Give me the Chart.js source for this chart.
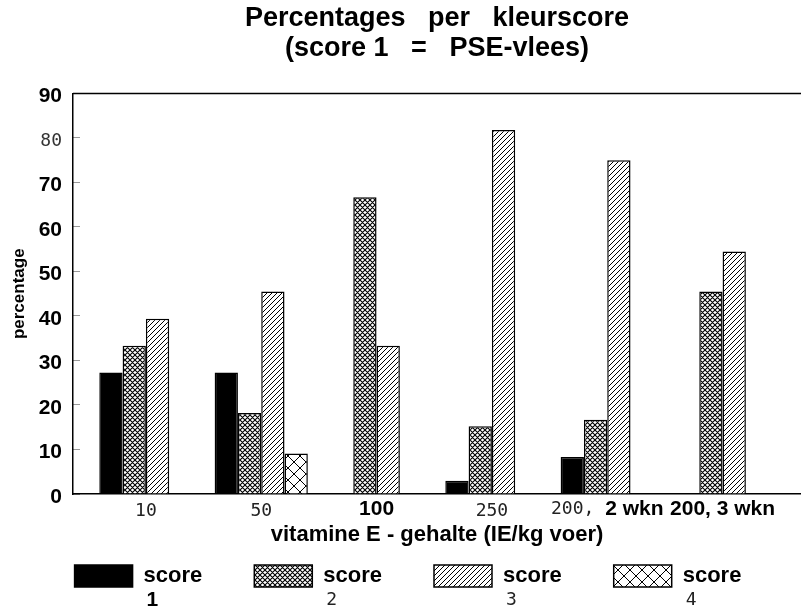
<!DOCTYPE html>
<html>
<head>
<meta charset="utf-8">
<script src="https://cdn.jsdelivr.net/npm/chart.js@4.4.0/dist/chart.umd.min.js"></script>
<style>
  html, body { margin: 0; padding: 0; background: #fff; }
</style>
</head>
<body>
<canvas id="kleurChart" width="801" height="612"></canvas>
<script>
const categories = ['10', '50', '100', '250', '200, 2 wkn', '200, 3 wkn'];
const score1 = [27.3, 27.3, 0, 3.0, 8.3, 0];
const score2 = [33.3, 18.2, 66.7, 15.2, 16.7, 45.5];
const score3 = [39.4, 45.5, 33.3, 81.8, 75.0, 54.5];
const score4 = [0, 9.1, 0, 0, 0, 0];
const seriesNames = ['score 1', 'score 2', 'score 3', 'score 4'];
const yTicks = [0, 10, 20, 30, 40, 50, 60, 70, 80, 90];

const BOLD = 'Liberation Sans, Arial, sans-serif';
const THIN = 'DejaVu Sans Mono, monospace';
// labels that the original printed in the thin typewriter face
const thinX = [0, 1, 3];
const thinY = [80];
const thinDigits = [1, 2, 3];

const ctx = document.getElementById('kleurChart').getContext('2d');

function makePattern(size, lw, draw) {
    const c = document.createElement('canvas');
    c.width = size;
    c.height = size;
    const g = c.getContext('2d');
    g.fillStyle = '#fff';
    g.fillRect(0, 0, size, size);
    g.strokeStyle = '#000';
    g.lineWidth = lw;
    g.beginPath();
    draw(g, size);
    g.stroke();
    return ctx.createPattern(c, 'repeat');
}
function slash(g, s) {
    g.moveTo(-1, s + 1); g.lineTo(s + 1, -1);
    g.moveTo(-1, 1); g.lineTo(1, -1);
    g.moveTo(s - 1, s + 1); g.lineTo(s + 1, s - 1);
}
function backslash(g, s) {
    g.moveTo(-1, -1); g.lineTo(s + 1, s + 1);
    g.moveTo(s - 1, -1); g.lineTo(s + 1, 1);
    g.moveTo(-1, s - 1); g.lineTo(1, s + 1);
}

const fills = [
    '#000',
    makePattern(5, 1.1, (g, s) => { slash(g, s); backslash(g, s); }),
    makePattern(5, 1, slash),
    makePattern(12, 1, (g, s) => { slash(g, s); backslash(g, s); })
];
const values = [score1, score2, score3, score4];

const framePlugin = {
    id: 'frame',
    afterDraw(chart) {
        const c = chart.ctx;
        const a = chart.chartArea;
        c.save();
        // top frame line
        c.strokeStyle = '#000';
        c.lineWidth = 1.5;
        c.beginPath();
        c.moveTo(a.left, a.top);
        c.lineTo(a.right, a.top);
        c.stroke();

        // mixed-face category label
        const xs = chart.scales.x;
        const parts = categories[4].split(' ');
        const first = parts[0] + ' ';
        const rest = parts.slice(1).join(' ');
        c.textBaseline = 'middle';
        c.textAlign = 'left';
        c.font = '18px ' + THIN;
        const w1 = c.measureText(first).width;
        c.font = 'bold 21px ' + BOLD;
        const w2 = c.measureText(rest).width;
        const x = xs.getPixelForValue(4) - (w1 + w2) / 2;
        const y = a.bottom + 15;
        c.fillStyle = '#222';
        c.font = '18px ' + THIN;
        c.fillText(first, x, y);
        c.fillStyle = '#000';
        c.font = 'bold 21px ' + BOLD;
        c.fillText(rest, x + w1, y);

        // second line of the legend labels
        chart.legend.legendHitBoxes.forEach((hb, i) => {
            const digit = seriesNames[i].split(' ')[1];
            const thin = thinDigits.includes(i);
            c.font = thin ? '18px ' + THIN : 'bold 21px ' + BOLD;
            c.fillStyle = thin ? '#222' : '#000';
            c.fillText(digit, hb.left + 58 + 11 + 3, hb.top + 35);
        });
        c.restore();
    }
};

new Chart(ctx, {
    type: 'bar',
    data: {
        datasets: values.map((vals, i) => ({
            label: seriesNames[i],
            data: vals.map((v, j) => ({x: j, y: v})),
            backgroundColor: fills[i],
            borderColor: '#000',
            borderWidth: 1.5,
            categoryPercentage: 0.808,
            barPercentage: 1.0
        }))
    },
    options: {
        responsive: false,
        animation: false,
        layout: {padding: {left: 15, right: 0, top: 0, bottom: 15}},
        scales: {
            x: {
                type: 'linear',
                bounds: 'data',
                offset: false,
                min: -0.632,
                max: 5.68,
                grid: {display: false, drawTicks: false, offset: false},
                border: {display: true, color: '#000', width: 1.5},
                afterBuildTicks: (s) => { s.ticks = categories.map((_, i) => ({value: i})); },
                ticks: {
                    autoSkip: false,
                    maxRotation: 0,
                    mirror: true,
                    padding: -28,
                    callback: (v) => categories[v] ?? '',
                    font: (c) => thinX.includes(c.index)
                        ? {family: THIN, size: 18, weight: 'normal'}
                        : {family: BOLD, size: 21, weight: 'bold'},
                    color: (c) => c.index === 4 ? 'rgba(0,0,0,0)' : (thinX.includes(c.index) ? '#222' : '#000')
                },
                title: {
                    display: true,
                    text: 'vitamine E - gehalte (IE/kg voer)',
                    color: '#000',
                    font: {family: BOLD, size: 22, weight: 'bold'},
                    padding: {top: 0, bottom: -35}
                },
                afterFit: (s) => { s.height = 19; }
            },
            y: {
                min: 0,
                max: 90,
                // short tick marks pointing into the plot
                grid: {display: true, drawOnChartArea: false, drawTicks: true, tickLength: -7, color: '#999', lineWidth: 1},
                border: {display: true, color: '#000', width: 1.5},
                afterBuildTicks: (s) => { s.ticks = yTicks.map(v => ({value: v})); },
                ticks: {
                    padding: 18,
                    labelOffset: 3,
                    font: (c) => thinY.includes(c.tick && c.tick.value)
                        ? {family: THIN, size: 18, weight: 'normal'}
                        : {family: BOLD, size: 21, weight: 'bold'},
                    color: (c) => thinY.includes(c.tick && c.tick.value) ? '#333' : '#000'
                },
                title: {
                    display: true,
                    text: 'percentage',
                    color: '#000',
                    font: {family: BOLD, size: 17, weight: 'bold'},
                    padding: {top: -6, bottom: 0}
                },
                afterFit: (s) => { s.width = 58; }
            }
        },
        plugins: {
            title: {
                display: true,
                fullSize: false,
                text: ['Percentages   per   kleurscore', '(score 1   =   PSE-vlees)'],
                color: '#000',
                font: {family: BOLD, size: 27, weight: 'bold', lineHeight: 1.111},
                padding: {top: 3.5, bottom: 30}
            },
            legend: {
                position: 'bottom',
                labels: {
                    boxWidth: 58,
                    boxHeight: 22,
                    padding: 52,
                    color: '#000',
                    font: {family: BOLD, size: 22, weight: 'bold'},
                    generateLabels: (chart) => Chart.defaults.plugins.legend.labels.generateLabels(chart)
                        .map((item, i) => Object.assign(item, {text: seriesNames[i].split(' ')[0]}))
                }
            },
            tooltip: {enabled: false}
        }
    },
    plugins: [framePlugin]
});
</script>
</body>
</html>
